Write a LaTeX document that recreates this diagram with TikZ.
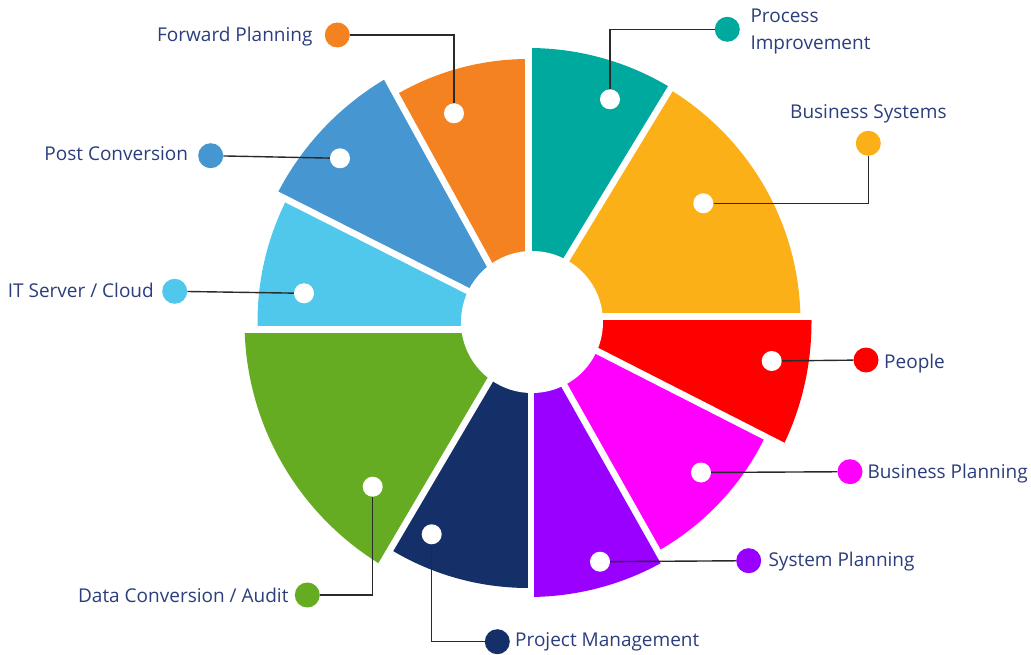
\documentclass[tikz,border=0pt]{standalone}
\usepackage{fontspec}
\setmainfont{Open Sans}
\usetikzlibrary{calc}
\definecolor{cteal}{HTML}{00A99D}
\definecolor{corange}{HTML}{F48221}
\definecolor{cyellow}{HTML}{FBB017}
\definecolor{cblue}{HTML}{4696D2}
\definecolor{clight}{HTML}{50C8EC}
\definecolor{cgreen}{HTML}{66AC22}
\definecolor{cnavy}{HTML}{152F69}
\definecolor{cpurple}{HTML}{9900FF}
\definecolor{cmagenta}{HTML}{FF00FF}
\definecolor{cred}{HTML}{FF0000}
\definecolor{txt}{HTML}{2B3D7D}
\definecolor{linkgray}{HTML}{2A2A2A}
\tikzset{
  wdot/.style={circle, fill=white, minimum size=20pt, inner sep=0pt},
  cdot/.style={circle, minimum size=25pt, inner sep=0pt},
  link/.style={draw=linkgray, line width=1.4pt},
  lbl/.style={text=txt, inner sep=0pt, font=\fontsize{19}{23}\selectfont},
  gapline/.style={draw=white, line width=6.5pt},
}
\newcommand{\pieseg}[6]{%
  \begin{scope}
    \clip (#2) -- ($(#2)+(#3:420)$) -- ($(C)+({(#3+#5)/2}:420)$) -- ($(#4)+(#5:420)$) -- (#4) -- cycle;
    \fill[#1] (C) circle (#6);
  \end{scope}}
\begin{document}
\begin{tikzpicture}[x=1pt,y=-1pt]
\useasboundingbox (0,0) rectangle (1031,655);
\coordinate (C) at (528.5,322);
% points on the gap lines
\coordinate (P1) at (528.3,322);   % -90
\coordinate (P2) at (528.5,322);   % -58.7
\coordinate (P3) at (521,322);     % -118.8
\coordinate (P4) at (528.5,321.6); % -153.2
\coordinate (P5) at (528.5,329.7); % 180
\coordinate (P6) at (524.3,322);   % 120.5
\coordinate (P7) at (530.8,322);   % 90
\coordinate (P8) at (528.6,322);   % 60.6
\coordinate (P9) at (528.5,316);   % 27
\coordinate (P10) at (528.5,316.7);% 0
% segments
\pieseg{clight}{P5}{-180}{P4}{-153.2}{271}
\pieseg{cblue}{P4}{-153.2}{P3}{-118.8}{282}
\pieseg{corange}{P3}{-118.8}{P1}{-90}{263}
\pieseg{cteal}{P1}{-90}{P2}{-58.7}{274}
\pieseg{cyellow}{P2}{-58.7}{P10}{0}{272}
\pieseg{cred}{P10}{0}{P9}{27}{283}
\pieseg{cmagenta}{P9}{27}{P8}{60.6}{263}
\pieseg{cpurple}{P8}{60.6}{P7}{90}{275}
\pieseg{cnavy}{P7}{90}{P6}{120.5}{266}
\pieseg{cgreen}{P6}{120.5}{P5}{180}{284}
% gaps
\draw[gapline] (P1) -- ($(P1)+(-90:300)$);
\draw[gapline] (P2) -- ($(P2)+(-58.7:300)$);
\draw[gapline] (P3) -- ($(P3)+(-118.8:300)$);
\draw[gapline] (P4) -- ($(P4)+(-153.2:300)$);
\draw[gapline] (P5) -- ($(P5)+(180:300)$);
\draw[gapline] (P6) -- ($(P6)+(120.5:300)$);
\draw[gapline] (P7) -- ($(P7)+(90:300)$);
\draw[gapline] (P8) -- ($(P8)+(60.6:300)$);
\draw[gapline] (P9) -- ($(P9)+(27:300)$);
\draw[gapline] (P10) -- ($(P10)+(0:300)$);
% hub
\fill[white] (532,322) circle (71);
% white dots
\node[wdot] (wTeal) at (610,99.3) {};
\node[wdot] (wOrange) at (454,113.3) {};
\node[wdot] (wBlue) at (340,158.3) {};
\node[wdot] (wLight) at (304,293.3) {};
\node[wdot] (wGreen) at (372.7,486.7) {};
\node[wdot] (wNavy) at (431.7,534.3) {};
\node[wdot] (wPurple) at (600,561.7) {};
\node[wdot] (wMagenta) at (701,472.5) {};
\node[wdot] (wRed) at (771.7,361) {};
\node[wdot] (wYellow) at (703.3,203.3) {};
% coloured dots
\node[cdot, fill=cteal] (cTeal) at (727.3,29.3) {};
\node[cdot, fill=cyellow] (cYellow) at (868.3,143.3) {};
\node[cdot, fill=corange] (cOrange) at (337.3,35) {};
\node[cdot, fill=cblue] (cBlue) at (210.7,155.7) {};
\node[cdot, fill=clight] (cLight) at (174.7,291.3) {};
\node[cdot, fill=cgreen] (cGreen) at (307.3,595) {};
\node[cdot, fill=cnavy] (cNavy) at (497.3,641.7) {};
\node[cdot, fill=cpurple] (cPurple) at (748.7,560.7) {};
\node[cdot, fill=cmagenta] (cMagenta) at (850,471.7) {};
\node[cdot, fill=cred] (cRed) at (866,360) {};
% connectors
\draw[link] (wTeal) |- (cTeal);
\draw[link] (cOrange) -| (wOrange);
\draw[link] (cBlue) -- (wBlue);
\draw[link] (cLight) -- (wLight);
\draw[link] (wGreen) |- (cGreen);
\draw[link] (wNavy) |- (cNavy);
\draw[link] (wPurple) -- (cPurple);
\draw[link] (wMagenta) -- (cMagenta);
\draw[link] (wRed) -- (cRed);
\draw[link] (wYellow) -| (cYellow);
% labels
\node[lbl, anchor=base west] (tProc1) at (750.3,22.7) {Process};
\node[lbl, anchor=base west] (tProc2) at (750.3,49.3) {Improvement};
\node[lbl, anchor=base west] (tBS) at (790,118.3) {Business Systems};
\node[lbl, anchor=base west] (tPeople) at (884,368.3) {People};
\node[lbl, anchor=base west] (tBP) at (867.3,478.3) {Business Planning};
\node[lbl, anchor=base west] (tSP) at (768.3,566.7) {System Planning};
\node[lbl, anchor=base west] (tPM) at (515,646.7) {Project Management};
\node[lbl, anchor=base east] (tDC) at (288.7,602.3) {Data Conversion / Audit};
\node[lbl, anchor=base east] (tPC) at (188.3,160.7) {Post Conversion};
\node[lbl, anchor=base east] (tIT) at (154,297.3) {IT Server / Cloud};
\node[lbl, anchor=base east] (tFP) at (312.7,41.7) {Forward Planning};
\end{tikzpicture}
\end{document}
